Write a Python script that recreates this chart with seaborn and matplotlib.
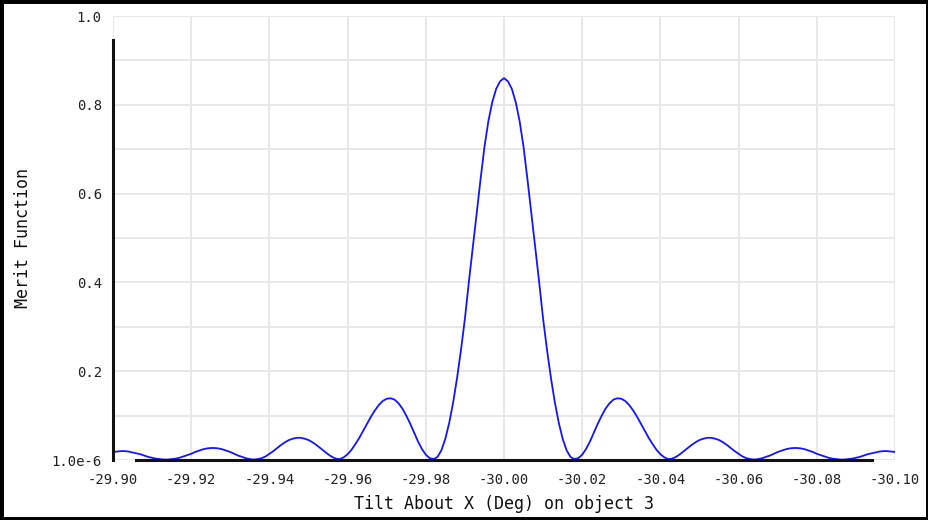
import numpy as np
import pandas as pd
import matplotlib
matplotlib.use("Agg")
import matplotlib.pyplot as plt
from matplotlib.ticker import MultipleLocator, FixedLocator, FuncFormatter
from matplotlib.patches import Rectangle
import seaborn as sns

# ---- data ----
# tilt grid: -29.900 ... -30.100 in 0.001 steps
tilt_deg = np.round(np.linspace(-29.90, -30.10, 201), 3)

# merit values, left edge (-29.900) to right edge (-30.100)
merit_left = [
    0.018, 0.019, 0.020, 0.020, 0.019, 0.017, 0.015, 0.013, 0.010, 0.007,
    0.005, 0.003, 0.002, 0.001, 0.001, 0.002, 0.003, 0.005, 0.008, 0.011,
    0.014, 0.018, 0.021, 0.024, 0.026, 0.027, 0.027, 0.026, 0.024, 0.021,
    0.018, 0.014, 0.010, 0.007, 0.004, 0.002, 0.001, 0.002, 0.004, 0.008,
    0.014, 0.020, 0.027, 0.034, 0.040, 0.045, 0.048, 0.050, 0.050, 0.048,
    0.045, 0.040, 0.034, 0.027, 0.020, 0.013, 0.007, 0.003, 0.002, 0.006,
    0.013, 0.023, 0.036, 0.050, 0.066, 0.082, 0.098, 0.112, 0.124, 0.133,
    0.138, 0.139, 0.136, 0.128, 0.116, 0.100, 0.082, 0.062, 0.042, 0.025,
    0.012, 0.004, 0.002, 0.007, 0.022, 0.048, 0.084, 0.130, 0.185, 0.248,
    0.318, 0.400, 0.478, 0.556, 0.632, 0.705, 0.763, 0.806, 0.836, 0.853,
]
merit_peak = [0.860]
merit_right = [
    0.853, 0.836, 0.806, 0.763, 0.705, 0.632, 0.556, 0.478, 0.400, 0.318,
    0.248, 0.185, 0.130, 0.084, 0.048, 0.022, 0.007, 0.002, 0.004, 0.012,
    0.025, 0.042, 0.062, 0.082, 0.100, 0.116, 0.128, 0.136, 0.139, 0.138,
    0.133, 0.124, 0.112, 0.098, 0.082, 0.066, 0.050, 0.036, 0.023, 0.013,
    0.006, 0.002, 0.003, 0.007, 0.013, 0.020, 0.027, 0.034, 0.040, 0.045,
    0.048, 0.050, 0.050, 0.048, 0.045, 0.040, 0.034, 0.027, 0.020, 0.014,
    0.008, 0.004, 0.002, 0.001, 0.002, 0.004, 0.007, 0.010, 0.014, 0.018,
    0.021, 0.024, 0.026, 0.027, 0.027, 0.026, 0.024, 0.021, 0.018, 0.014,
    0.011, 0.008, 0.005, 0.003, 0.002, 0.001, 0.001, 0.002, 0.003, 0.005,
    0.007, 0.010, 0.013, 0.015, 0.017, 0.019, 0.020, 0.020, 0.019, 0.018,
]
merit_values = merit_left + merit_peak + merit_right

x_ticks = [-29.90, -29.92, -29.94, -29.96, -29.98, -30.00,
           -30.02, -30.04, -30.06, -30.08, -30.10]
y_ticks = [0.0, 0.2, 0.4, 0.6, 0.8, 1.0]
y_tick_labels = ["1.0e-6", "0.2", "0.4", "0.6", "0.8", "1.0"]
x_label = "Tilt About X (Deg) on object 3"
y_label = "Merit Function"

df = pd.DataFrame({"tilt": tilt_deg, "merit": merit_values})

# ---- plot ----
sns.set_theme(style="whitegrid")
plt.rcParams["font.family"] = ["DejaVu Sans Mono", "DejaVu Sans"]

fig = plt.figure(figsize=(9.29, 5.20), dpi=100)
ax = fig.add_axes([113 / 929, 60 / 520, 782 / 929, 444 / 520])

sns.lineplot(data=df, x="tilt", y="merit", ax=ax, color="#1414ff",
             linewidth=1.3, sort=False)

ax.set_xlim(-29.90, -30.10)
ax.set_ylim(0.0, 1.0)
ax.xaxis.set_major_locator(FixedLocator(x_ticks))
ax.xaxis.set_major_formatter(FuncFormatter(lambda v, p: f"{v:.2f}"))
ax.yaxis.set_major_locator(FixedLocator(y_ticks))
ax.set_yticklabels(y_tick_labels)
ax.yaxis.set_minor_locator(MultipleLocator(0.1))

ax.grid(True, which="both", color="#e8e8e8", linewidth=1.4)
ax.set_axisbelow(True)

ax.tick_params(axis="both", which="both", length=0, labelsize=10,
               labelcolor="#222222")
ax.tick_params(axis="x", pad=9)
ax.tick_params(axis="y", pad=8)

for s in ["top", "right"]:
    ax.spines[s].set_visible(False)
ax.spines["left"].set_color("#111111")
ax.spines["left"].set_linewidth(2.2)
ax.spines["left"].set_bounds(0.0, 0.945)
ax.spines["bottom"].set_color("#111111")
ax.spines["bottom"].set_linewidth(2.2)
ax.spines["bottom"].set_bounds(-29.906, -30.094)
ax.set_facecolor("white")

ax.set_xlabel(x_label, fontsize=12, color="#111111", labelpad=6)
ax.set_ylabel(y_label, fontsize=12, color="#111111", labelpad=14)

# outer black frame
fig.patches.append(Rectangle((0, 0), 1, 1, transform=fig.transFigure,
                             fill=False, edgecolor="black", linewidth=5,
                             zorder=10))

fig.savefig("out.png", dpi=100, facecolor="white")
